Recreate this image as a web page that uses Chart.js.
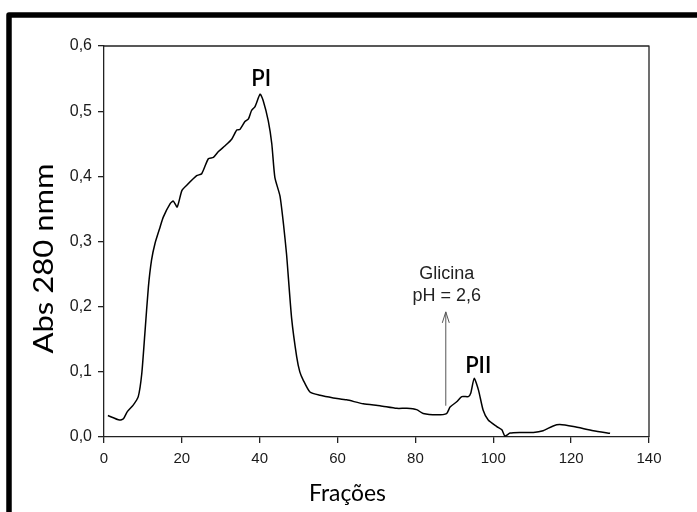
<!DOCTYPE html>
<html>
<head>
<meta charset="utf-8">
<script src="https://cdn.jsdelivr.net/npm/chart.js@4.4.1/dist/chart.umd.min.js"></script>
<style>
  html, body { margin: 0; padding: 0; background: #fff; }
  #wrap { width: 697px; height: 512px; }
</style>
</head>
<body>
<div id="wrap"><canvas id="c" width="697" height="512"></canvas></div>
<script>
// ---- data ----
const fractions = [1, 4, 5, 6, 7.5, 8.8, 9.7, 10.5, 11.4, 12.2, 13.1, 14.4, 15.2, 17, 17.8, 18.8, 20, 21.2, 23.8, 25.1, 26.8, 28.1, 29.4, 31.1, 32.8, 34.1, 34.9, 36.2, 37.1, 37.9, 38.8, 40.1, 40.9, 42.2, 43.1, 43.9, 45.2, 46.1, 46.9, 48.2, 49.5, 50.3, 51.2, 52.9, 55.5, 58.9, 62.3, 66.6, 70.9, 75.2, 77.8, 80.3, 82, 85.5, 88, 88.9, 90.6, 91.9, 93.6, 94.2, 95.1, 96.2, 97.4, 98.7, 100.9, 102.2, 103, 104.3, 106.9, 110.3, 112.8, 115.4, 117.1, 120.6, 125.7, 130];
const absorbance = [0.033, 0.026, 0.028, 0.039, 0.049, 0.062, 0.097, 0.159, 0.23, 0.271, 0.297, 0.322, 0.337, 0.358, 0.362, 0.353, 0.378, 0.386, 0.401, 0.404, 0.427, 0.429, 0.438, 0.447, 0.457, 0.471, 0.472, 0.484, 0.488, 0.501, 0.507, 0.526, 0.516, 0.485, 0.45, 0.398, 0.37, 0.327, 0.28, 0.182, 0.123, 0.1, 0.087, 0.069, 0.064, 0.06, 0.057, 0.051, 0.048, 0.044, 0.044, 0.042, 0.036, 0.034, 0.036, 0.046, 0.054, 0.062, 0.062, 0.067, 0.09, 0.072, 0.041, 0.026, 0.016, 0.011, 0.0015, 0.006, 0.007, 0.007, 0.0097, 0.017, 0.019, 0.016, 0.0097, 0.0056];
const xTicks = [0, 20, 40, 60, 80, 100, 120, 140];
const yTicks = [0.0, 0.1, 0.2, 0.3, 0.4, 0.5, 0.6];
const xTitle = "Frações";
const yTitle = "Abs 280 nmm";
const peakLabels = ["PI", "PII"];
const peakX = [40.1, 95.1];
const peakY = [0.526, 0.09];
const arrowX = [87.8, 87.8];
const arrowY = [0.048, 0.192];
const arrowText = ["Glicina", "pH = 2,6"];

const points = fractions.map((f, i) => ({ x: f, y: absorbance[i] }));

function stretchedText(ctx, text, cx, baseY, targetW) {
  const w = ctx.measureText(text).width;
  const k = targetW / w;
  ctx.save();
  ctx.translate(cx, baseY);
  ctx.scale(k, 1);
  ctx.textAlign = 'center';
  ctx.fillText(text, 0, 0);
  ctx.restore();
}

const decor = {
  id: 'decor',
  afterDraw(chart) {
    const ctx = chart.ctx;
    const a = chart.chartArea;
    const xs = chart.scales.x, ys = chart.scales.y;
    ctx.save();
    // outer frame (cropped: left and top visible)
    ctx.strokeStyle = '#000';
    ctx.lineWidth = 5.5;
    ctx.lineJoin = 'round';
    ctx.beginPath();
    ctx.moveTo(9, 520);
    ctx.lineTo(9, 15);
    ctx.lineTo(705, 15);
    ctx.stroke();
    // top & right plot box lines
    ctx.strokeStyle = '#222';
    ctx.lineWidth = 1.3;
    ctx.beginPath();
    ctx.moveTo(a.left, a.top);
    ctx.lineTo(a.right, a.top);
    ctx.lineTo(a.right, a.bottom);
    ctx.stroke();
    // axis titles
    ctx.fillStyle = '#000';
    ctx.font = '23px Lato';
    ctx.textBaseline = 'alphabetic';
    stretchedText(ctx, xTitle, 347.5, 501, 77);
    ctx.save();
    ctx.translate(53, 258.5);
    ctx.rotate(-Math.PI / 2);
    ctx.font = '26px Lato';
    stretchedText(ctx, yTitle, 0, 0, 190);
    ctx.restore();
    // peak labels
    ctx.textAlign = 'center';
    ctx.font = '600 22px Lato';
    const off = [8, 5];
    peakLabels.forEach((t, i) => {
      const px = xs.getPixelForValue(peakX[i]);
      const py = ys.getPixelForValue(peakY[i]);
      ctx.fillText(t, px + (i === 0 ? 1 : 4), py - off[i]);
    });
    // arrow
    const ax = xs.getPixelForValue(arrowX[0]);
    const ay0 = ys.getPixelForValue(arrowY[0]);
    const ay1 = ys.getPixelForValue(arrowY[1]);
    ctx.strokeStyle = '#555';
    ctx.lineWidth = 1;
    ctx.beginPath();
    ctx.moveTo(ax, ay0);
    ctx.lineTo(ax, ay1);
    ctx.moveTo(ax - 3.5, ay1 + 11);
    ctx.lineTo(ax, ay1);
    ctx.lineTo(ax + 3.5, ay1 + 11);
    ctx.stroke();
    ctx.fillStyle = '#222';
    ctx.font = '18px "Liberation Sans", Arial';
    ctx.fillText(arrowText[0], ax + 1, ay1 - 33);
    ctx.fillText(arrowText[1], ax + 1, ay1 - 11);
    ctx.restore();
  }
};

new Chart(document.getElementById('c'), {
  type: 'line',
  data: {
    datasets: [{
      data: points,
      borderColor: '#000',
      borderWidth: 1.5,
      pointRadius: 0,
      fill: false,
      tension: 0.2
    }]
  },
  options: {
    responsive: false,
    animation: false,
    devicePixelRatio: 1,
    layout: { padding: { left: 0, right: 48, top: 46, bottom: 0 } },
    plugins: { legend: { display: false }, tooltip: { enabled: false } },
    scales: {
      x: {
        type: 'linear',
        min: xTicks[0],
        max: xTicks[xTicks.length - 1],
        afterBuildTicks(s) { s.ticks = xTicks.map(v => ({ value: v })); },
        afterFit(s) { s.height = 75; },
        grid: { drawOnChartArea: false, drawTicks: true, tickLength: 6, tickColor: '#222', lineWidth: 1.3 },
        border: { display: true, color: '#222', width: 1.3 },
        ticks: { color: '#1a1a1a', font: { family: '"Liberation Sans", Arial', size: 15 }, padding: 7, maxRotation: 0,
          callback: v => String(v) }
      },
      y: {
        type: 'linear',
        min: yTicks[0],
        max: yTicks[yTicks.length - 1],
        afterBuildTicks(s) { s.ticks = yTicks.map(v => ({ value: v })); },
        afterFit(s) { s.width = 104; },
        grid: { drawOnChartArea: false, drawTicks: true, tickLength: 6, tickColor: '#222', lineWidth: 1.3 },
        border: { display: true, color: '#222', width: 1.3 },
        ticks: { color: '#1a1a1a', font: { family: '"Liberation Sans", Arial', size: 16 }, padding: 6,
          callback: v => Number(v).toFixed(1).replace('.', ',') }
      }
    }
  },
  plugins: [decor]
});
</script>
</body>
</html>
